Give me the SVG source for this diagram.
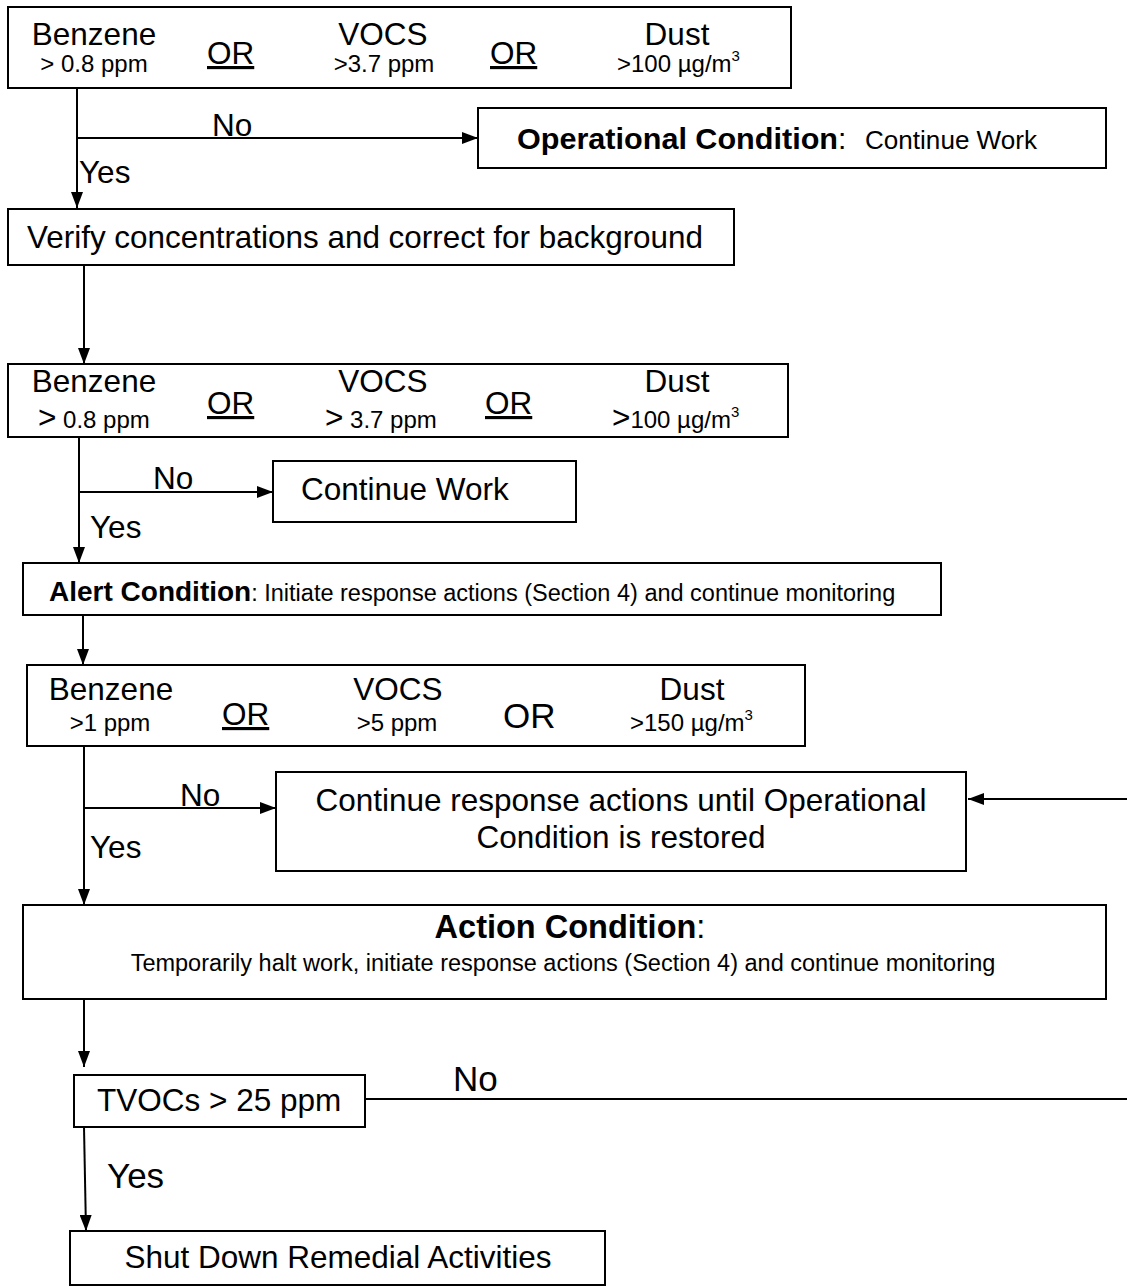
<svg xmlns="http://www.w3.org/2000/svg" width="1127" height="1288" viewBox="0 0 1127 1288">
<style>
text{font-family:"Liberation Sans",Arial,sans-serif;fill:#000}
.box{fill:#fff;stroke:#000;stroke-width:2}
.ln{fill:none;stroke:#000;stroke-width:2}
.big{font-size:31.5px}
.sm{font-size:24px}
.sup{font-size:15px}
.b{font-weight:bold}
.c{text-anchor:middle}
</style>
<defs>
<marker id="ah" markerUnits="userSpaceOnUse" markerWidth="16" markerHeight="12" refX="16" refY="6" orient="auto">
<path d="M0,0 L16,6 L0,12 Z" fill="#000"/>
</marker>
</defs>
<rect width="1127" height="1288" fill="#fff"/>

<g id="connectors">
<line class="ln" x1="77" y1="88" x2="77" y2="208" marker-end="url(#ah)"/>
<line class="ln" x1="77" y1="138" x2="478" y2="138" marker-end="url(#ah)"/>
<text class="big" x="212" y="136">No</text>
<text class="big" x="79" y="183">Yes</text>

<line class="ln" x1="84" y1="265" x2="84" y2="364" marker-end="url(#ah)"/>

<line class="ln" x1="79" y1="437" x2="79" y2="563" marker-end="url(#ah)"/>
<line class="ln" x1="79" y1="492" x2="273" y2="492" marker-end="url(#ah)"/>
<text class="big" x="153" y="489">No</text>
<text class="big" x="90" y="538">Yes</text>

<line class="ln" x1="83" y1="615" x2="83" y2="665" marker-end="url(#ah)"/>

<line class="ln" x1="84" y1="746" x2="84" y2="905" marker-end="url(#ah)"/>
<line class="ln" x1="84" y1="808" x2="276" y2="808" marker-end="url(#ah)"/>
<text class="big" x="180" y="806">No</text>
<text class="big" x="90" y="858">Yes</text>
<line class="ln" x1="1127" y1="799" x2="968" y2="799" marker-end="url(#ah)"/>

<line class="ln" x1="84" y1="999" x2="84" y2="1067" marker-end="url(#ah)"/>
<line class="ln" x1="365" y1="1099" x2="1127" y2="1099"/>
<text x="453" y="1091" font-size="35">No</text>
<line class="ln" x1="84" y1="1127" x2="86" y2="1231" marker-end="url(#ah)"/>
<text x="107" y="1188" font-size="35">Yes</text>
</g>

<g id="n1">
<rect class="box" x="8" y="7" width="783" height="81"/>
<text class="big c" x="94" y="45">Benzene</text>
<text class="sm c" x="94" y="72">&gt; 0.8 ppm</text>
<text class="big" x="207" y="64" text-decoration="underline">OR</text>
<text class="big c" x="383" y="45">VOCS</text>
<text class="sm c" x="384" y="72">&gt;3.7 ppm</text>
<text class="big" x="490" y="64" text-decoration="underline">OR</text>
<text class="big c" x="677" y="45">Dust</text>
<text class="sm" x="617" y="72">&gt;100 µg/m<tspan class="sup" dy="-11">3</tspan></text>
</g>

<g id="n2">
<rect class="box" x="478" y="108" width="628" height="60"/>
<text class="b" x="517" y="149" font-size="30" textLength="321" lengthAdjust="spacingAndGlyphs">Operational Condition</text>
<text x="838" y="149" font-size="30">:</text>
<text x="865" y="149" font-size="26" textLength="172" lengthAdjust="spacingAndGlyphs">Continue Work</text>
</g>

<g id="n3">
<rect class="box" x="8" y="209" width="726" height="56"/>
<text x="27" y="248" font-size="30.5" textLength="676" lengthAdjust="spacingAndGlyphs">Verify concentrations and correct for background</text>
</g>

<g id="n4">
<rect class="box" x="8" y="364" width="780" height="73"/>
<text class="big c" x="94" y="392">Benzene</text>
<text x="38" y="428"><tspan font-size="31.5">&gt;</tspan><tspan font-size="24"> 0.8 ppm</tspan></text>
<text class="big" x="207" y="414" text-decoration="underline">OR</text>
<text class="big c" x="383" y="392">VOCS</text>
<text x="325" y="428"><tspan font-size="31.5">&gt;</tspan><tspan font-size="24"> 3.7 ppm</tspan></text>
<text class="big" x="485" y="414" text-decoration="underline">OR</text>
<text class="big c" x="677" y="392">Dust</text>
<text x="612" y="428"><tspan font-size="31.5">&gt;</tspan><tspan font-size="24">100 µg/m</tspan><tspan class="sup" dy="-11">3</tspan></text>
</g>

<g id="n5">
<rect class="box" x="273" y="461" width="303" height="61"/>
<text class="big" x="301" y="500">Continue Work</text>
</g>

<g id="n6">
<rect class="box" x="23" y="563" width="918" height="52"/>
<text x="49" y="601"><tspan class="b" font-size="28">Alert Condition</tspan><tspan font-size="23.5">: Initiate response actions (Section 4) and continue monitoring</tspan></text>
</g>

<g id="n7">
<rect class="box" x="27" y="665" width="778" height="81"/>
<text class="big c" x="111" y="700">Benzene</text>
<text class="sm c" x="110" y="731">&gt;1 ppm</text>
<text class="big" x="222" y="725" text-decoration="underline">OR</text>
<text class="big c" x="398" y="700">VOCS</text>
<text class="sm c" x="397" y="731">&gt;5 ppm</text>
<text x="503" y="728" font-size="35">OR</text>
<text class="big c" x="692" y="700">Dust</text>
<text class="sm" x="630" y="731">&gt;150 µg/m<tspan class="sup" dy="-11">3</tspan></text>
</g>

<g id="n8">
<rect class="box" x="276" y="772" width="690" height="99"/>
<text class="big c" x="621" y="811">Continue response actions until Operational</text>
<text class="big c" x="621" y="848">Condition is restored</text>
</g>

<g id="n9">
<rect class="box" x="23" y="905" width="1083" height="94"/>
<text class="c" x="570" y="938"><tspan class="b" font-size="32.5">Action Condition</tspan><tspan font-size="32.5">:</tspan></text>
<text class="c" x="563" y="971" font-size="23.5">Temporarily halt work, initiate response actions (Section 4) and continue monitoring</text>
</g>

<g id="n10">
<rect class="box" x="74" y="1075" width="291" height="52"/>
<text class="big" x="97" y="1111">TVOCs &gt; 25 ppm</text>
</g>

<g id="n11">
<rect class="box" x="70" y="1231" width="535" height="54"/>
<text class="big c" x="338" y="1268">Shut Down Remedial Activities</text>
</g>
</svg>
